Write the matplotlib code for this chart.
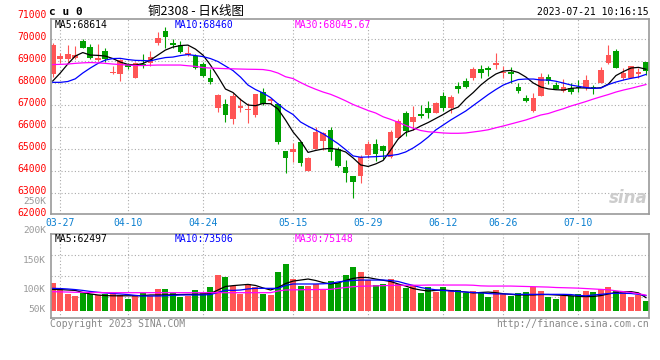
import matplotlib.pyplot as plt
import numpy as np

plt.rcParams['font.family'] = ['DejaVu Sans Mono', 'Noto Sans CJK SC']

# trading days shown (03-24 .. 07-21)
dates = ['03-24', '03-27', '03-28', '03-29', '03-30', '03-31',
         '04-03', '04-04', '04-06', '04-07', '04-10', '04-11', '04-12', '04-13', '04-14',
         '04-17', '04-18', '04-19', '04-20', '04-21', '04-24', '04-25', '04-26', '04-27', '04-28',
         '05-04', '05-05', '05-08', '05-09', '05-10', '05-11', '05-12', '05-15', '05-16', '05-17',
         '05-18', '05-19', '05-22', '05-23', '05-24', '05-25', '05-26', '05-29', '05-30', '05-31',
         '06-01', '06-02', '06-05', '06-06', '06-07', '06-08', '06-09', '06-12', '06-13', '06-14',
         '06-15', '06-16', '06-19', '06-20', '06-21', '06-26', '06-27', '06-28', '06-29', '06-30',
         '07-03', '07-04', '07-05', '07-06', '07-07', '07-10', '07-11', '07-12', '07-13', '07-14',
         '07-17', '07-18', '07-19', '07-20', '07-21']

opens = [68382, 69064, 69064, 69109, 69895, 69636, 69030, 69441, 68427, 68382,
         68850, 68227, 68830, 68900, 69818, 70350, 69818, 69713, 69259, 69214,
         68850, 68200, 66836, 67018, 66350, 66836, 66760, 66532, 67564, 67168,
         67018, 64895, 64864, 65318, 64000, 64986, 65350, 65850, 64986, 64150,
         63773, 63773, 64714, 65214, 65120, 64636, 65500, 66610, 66230, 66570,
         66836, 66636, 67395, 66836, 67850, 68077, 68227, 68623, 68680, 68800,
         68430, 68500, 67818, 67318, 66727, 67410, 68245, 67895, 67636, 67773,
         67818, 67745, 67818, 68000, 68910, 69441, 68227, 68227, 68380, 68927]
closes = [69713, 69214, 69305, 69259, 69591, 69109, 69140, 69064, 68500, 69032,
          68700, 68918, 68800, 69150, 70045, 70091, 69713, 69409, 69336, 68654,
          68305, 68045, 67441, 66532, 67395, 66950, 66800, 67486, 67032, 67245,
          65291, 64591, 64986, 64364, 64564, 65745, 65700, 64864, 64227, 63880,
          63473, 64636, 65214, 64760, 64910, 65773, 66270, 65800, 66430, 66500,
          66636, 67064, 66836, 67336, 67700, 67818, 68623, 68427, 68577, 68880,
          68500, 68380, 67636, 67170, 67318, 68245, 68091, 67714, 67790, 67590,
          67745, 68120, 67745, 68577, 69259, 68682, 68455, 68760, 68470, 68532]
highs = [69818, 69336, 69713, 69682, 69986, 69759, 69759, 69563, 68772, 69064,
         68910, 68950, 69290, 69440, 70318, 70545, 69986, 69880, 69682, 69290,
         68950, 68620, 67486, 67259, 67518, 67290, 67064, 67486, 67773, 67318,
         67064, 64895, 65273, 65318, 64636, 66000, 65773, 66000, 65090, 64500,
         63773, 64714, 65350, 65430, 65170, 65850, 66340, 66700, 66940, 66990,
         67170, 67110, 67564, 67440, 68020, 68230, 68727, 68805, 68773, 69364,
         68760, 68730, 67970, 67440, 67518, 68427, 68380, 68045, 68168, 67970,
         68120, 68350, 67895, 68727, 69713, 69530, 68655, 68760, 68655, 68927]
lows = [68273, 68882, 68955, 69064, 69564, 69064, 69000, 68955, 68382, 68091,
        68610, 68200, 68680, 68760, 69713, 69564, 69564, 69350, 69227, 68610,
        68270, 67930, 66650, 66200, 66109, 66682, 66180, 66455, 66986, 67032,
        65214, 63910, 64410, 64227, 64000, 64986, 64950, 64486, 64180, 63500,
        62745, 63427, 64560, 64440, 64520, 64560, 65430, 65580, 65850, 66410,
        66410, 66610, 66710, 66610, 67545, 67745, 68123, 68227, 68318, 68610,
        68200, 68000, 67545, 67110, 66655, 67410, 67930, 67714, 67590, 67486,
        67590, 67670, 67486, 68000, 68836, 68682, 68123, 68200, 68227, 68350]

ma5 = [68077, 68440, 68850, 69214, 69373, 69259, 69245, 69214, 69100, 68940,
       68836, 68805, 68873, 69032, 69259, 69486, 69623, 69690, 69713, 69532,
       69259, 68805, 68282, 67714, 67555, 67236, 66986, 66955, 67055, 67045,
       66805, 66305, 65760, 65350, 64830, 64918, 64986, 65010, 64964, 64850,
       64577, 64260, 64190, 64305, 64464, 64940, 65440, 65737, 65850, 66032,
       66190, 66373, 66555, 66760, 66895, 67260, 67555, 67895, 68168, 68395,
       68532, 68560, 68464, 68260, 67986, 67805, 67720, 67682, 67668, 67745,
       67768, 67760, 67745, 67773, 67940, 68327, 68510, 68668, 68700, 68614]
ma10 = [68018, 68018, 68055, 68177, 68441, 68668, 68873, 69032, 69100, 69109,
        69055, 69018, 69010, 68995, 69077, 69145, 69168, 69236, 69282, 69236,
        69190, 69100, 68964, 68759, 68555, 68259, 67895, 67690, 67532, 67327,
        67032, 66760, 66555, 66214, 66023, 65850, 65680, 65455, 65227, 64955,
        64670, 64610, 64623, 64636, 64660, 64690, 64740, 64850, 65032, 65260,
        65530, 65850, 66077, 66305, 66510, 66714, 66964, 67214, 67464, 67690,
        67895, 68032, 68145, 68168, 68168, 68123, 68123, 68068, 67986, 67895,
        67836, 67782, 67745, 67760, 67918, 68032, 68123, 68200, 68260, 68380]
ma30 = [68827, 68836, 68850, 68882, 68905, 68918, 68905, 68882, 68850, 68827,
        68805, 68782, 68782, 68795, 68805, 68805, 68805, 68805, 68773, 68745,
        68690, 68668, 68655, 68641, 68632, 68623, 68614, 68609, 68600, 68548,
        68440, 68273, 68190, 68010, 67845, 67705, 67577, 67473, 67332, 67177,
        67009, 66873, 66736, 66623, 66450, 66332, 66200, 66055, 65932, 65827,
        65768, 65745, 65714, 65700, 65700, 65714, 65759, 65805, 65860, 65950,
        66032, 66123, 66214, 66305, 66418, 66532, 66600, 66714, 66818, 66940,
        67040, 67145, 67259, 67364, 67464, 67577, 67668, 67745, 67832, 67918]

# volume in thousands of lots
volumes = [135, 108, 79, 71, 87, 79, 76, 79, 84, 76,
           56, 76, 84, 71, 105, 105, 84, 66, 71, 100,
           87, 114, 172, 163, 121, 81, 128, 113, 81, 76,
           188, 226, 153, 121, 121, 128, 105, 143, 132, 172,
           213, 188, 148, 123, 128, 153, 128, 111, 124, 87,
           113, 92, 113, 100, 100, 87, 95, 92, 66, 100,
           81, 72, 84, 90, 114, 95, 66, 56, 72, 72,
           79, 95, 92, 106, 114, 95, 95, 68, 76, 48]
vol_ma5 = [103, 102, 100, 98, 88, 81, 76, 73, 72, 72,
           72, 72, 73, 76, 76, 76, 77, 78, 79, 79,
           81, 83, 100, 117, 121, 124, 127, 122, 110, 100,
           112, 131, 143, 148, 153, 146, 136, 129, 134, 146,
           156, 161, 160, 153, 147, 141, 129, 119, 107, 100,
           95, 98, 100, 97, 94, 90, 86, 88, 90, 87,
           82, 79, 76, 76, 76, 78, 78, 76, 74, 72,
           70, 68, 69, 73, 81, 88, 92, 92, 86, 63]
vol_ma10 = [108, 107, 105, 102, 98, 93, 89, 86, 83, 81,
            78, 74, 71, 71, 71, 72, 74, 76, 76, 76,
            76, 78, 88, 99, 98, 100, 105, 108, 108, 108,
            108, 122, 129, 129, 129, 129, 130, 132, 139, 143,
            146, 148, 148, 148, 148, 146, 141, 131, 122, 112,
            106, 101, 98, 95, 93, 90, 88, 86, 83, 81,
            81, 80, 79, 79, 79, 79, 79, 79, 79, 78,
            74, 72, 76, 79, 83, 84, 84, 83, 79, 73]
vol_ma30 = [92, 91, 90, 89, 89, 88, 88, 87, 87, 87,
            87, 87, 87, 87, 87, 87, 87, 87, 87, 87,
            87, 87, 87, 87, 87, 87, 87, 87, 87, 87,
            95, 100, 101, 101, 102, 102, 103, 103, 108, 112,
            116, 118, 119, 120, 121, 122, 123, 123, 123, 123,
            124, 124, 124, 124, 124, 124, 123, 120, 119, 119,
            119, 119, 118, 117, 116, 115, 114, 112, 111, 110,
            109, 107, 105, 103, 101, 96, 92, 88, 82, 75]

tick_dates = ['03-27', '04-10', '04-24', '05-15', '05-29', '06-12', '06-26', '07-10']
price_labels = [71000, 70000, 69000, 68000, 67000, 66000, 65000, 64000, 63000, 62000]

RED = '#ff5555'
GREEN = '#00a000'
GRID = '#aaaaaa'
FRAME = '#999999'


def fxy(px, py):
    # pixel position -> figure fraction
    return px / 660, 1 - py / 360


fig = plt.figure(figsize=(6.6, 3.6), dpi=100)
ax = fig.add_axes([50.7 / 660, 1 - 213.5 / 360, 598.6 / 660, 194.5 / 360])
vax = fig.add_axes([50.7 / 660, 1 - 317.7 / 360, 598.6 / 660, 83.4 / 360])

x = np.arange(len(dates))
o = np.array(opens); c = np.array(closes)
colors = np.where(c >= o, RED, GREEN)

# candles
ax.vlines(x, lows, highs, colors=colors, lw=0.8, zorder=2)
ax.bar(x, np.maximum(np.abs(c - o), 35), bottom=np.minimum(o, c), width=0.75,
       color=colors, linewidth=0, zorder=2)
ax.plot(x, ma5, color='black', lw=0.9, zorder=3)
ax.plot(x, ma10, color='#0000ff', lw=0.9, zorder=3)
ax.plot(x, ma30, color='#ff00ff', lw=0.9, zorder=3)

ax.set_xlim(-0.27, 79.44)
ax.set_ylim(62050, 70900)
ticks = [dates.index(d) for d in tick_dates]
ax.set_xticks(ticks)
ax.set_xticklabels(tick_dates, color='#0a7fd0', fontsize=7)
ax.set_yticks(range(63000, 71000, 1000))
ax.tick_params(length=0, labelleft=False, pad=3)
ax.grid(True, color=GRID, linestyle=(0, (1, 2)), lw=0.8)
ax.set_axisbelow(True)
for p in price_labels:
    # labels sit a pixel or two above their grid line
    ax.text(-0.007, p + 70, str(p), transform=ax.get_yaxis_transform(), ha='right', va='center',
            color='#ff0000', fontsize=7, clip_on=False)

# volume
vax.bar(x, volumes, width=0.8, color=colors, linewidth=0, zorder=2)
vax.plot(x, vol_ma5, color='black', lw=0.9, zorder=3)
vax.plot(x, vol_ma10, color='#0000ff', lw=0.9, zorder=3)
vax.plot(x, vol_ma30, color='#ff00ff', lw=0.9, zorder=3)
vlo, vhi = -33.8, 369
vax.set_xlim(-0.27, 79.44)
vax.set_ylim(vlo, vhi)
vax.set_xticks(ticks)
vax.set_yticks([vlo + f * (vhi - vlo) for f in (0.25, 0.5, 0.75)])
vax.tick_params(length=0, labelleft=False, labelbottom=False)
vax.grid(True, color=GRID, linestyle=(0, (1, 2)), lw=0.8)
vax.set_axisbelow(True)

for a in (ax, vax):
    for s in a.spines.values():
        s.set_color(FRAME)
        s.set_linewidth(1.2)

# volume labels as drawn by the source chart
for lbl, py in zip(['250K', '200K', '150K', '100K', '50K'], [201.5, 230.7, 260.7, 290, 310]):
    fig.text(*fxy(46, py), lbl, ha='right', va='center', color='#999999', fontsize=6.8)

# header
fig.text(*fxy(49, 12), 'c u 0', ha='left', va='center', fontsize=8, fontweight='bold')
fig.text(*fxy(196, 11), '铜2308 - 日K线图', ha='center', va='center', fontsize=9,
         family=['Noto Sans CJK SC', 'DejaVu Sans'])
fig.text(*fxy(649, 12), '2023-07-21 10:16:15', ha='right', va='center', fontsize=7)

# MA legends
fig.text(*fxy(55, 24.5), 'MA5:68614', ha='left', va='center', fontsize=7, color='black')
fig.text(*fxy(175, 24.5), 'MA10:68460', ha='left', va='center', fontsize=7, color='#0000ff')
fig.text(*fxy(295, 24.5), 'MA30:68045.67', ha='left', va='center', fontsize=7, color='#ff00ff')
fig.text(*fxy(55, 238.7), 'MA5:62497', ha='left', va='center', fontsize=7, color='black')
fig.text(*fxy(175, 238.7), 'MA10:73506', ha='left', va='center', fontsize=7, color='#0000ff')
fig.text(*fxy(295, 238.7), 'MA30:75148', ha='left', va='center', fontsize=7, color='#ff00ff')

# footer and watermark
fig.text(*fxy(50, 324), 'Copyright 2023 SINA.COM', ha='left', va='center', fontsize=7, color='#888888')
fig.text(*fxy(649, 324), 'http://finance.sina.com.cn', ha='right', va='center', fontsize=7, color='#888888')
fig.text(*fxy(648, 198), 'sina', ha='right', va='center', fontsize=12, fontweight='bold',
         style='italic', color='#cccccc', family='DejaVu Sans')

fig.savefig('out.png', dpi=100)
